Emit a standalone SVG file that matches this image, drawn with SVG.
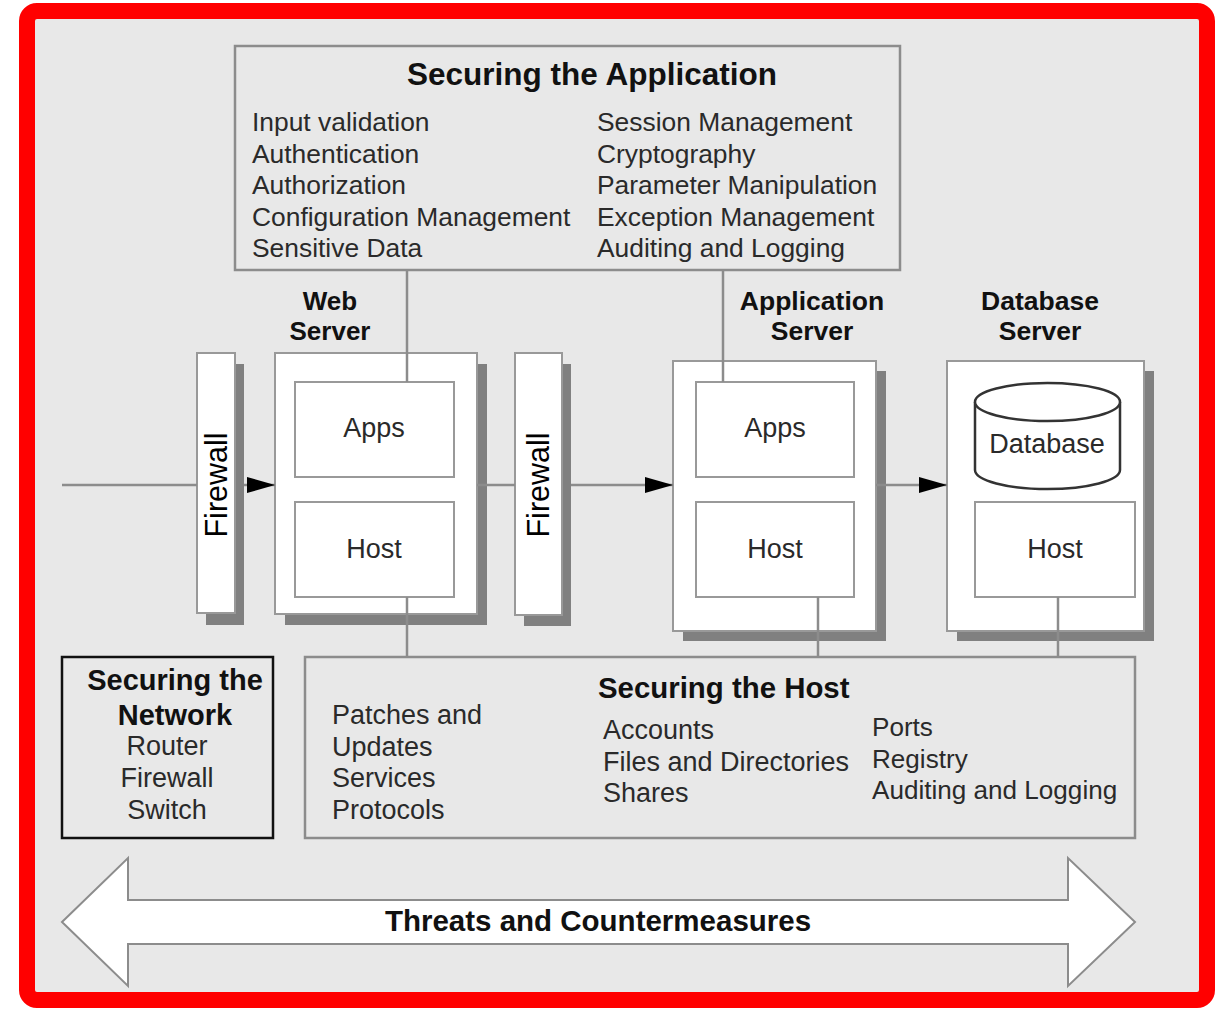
<svg xmlns="http://www.w3.org/2000/svg" width="1223" height="1009" viewBox="0 0 1223 1009">
<defs>
<style>
.t{font-family:"Liberation Sans",Arial,sans-serif;fill:#2a2a2a;font-size:27px}
.ta{font-family:"Liberation Sans",Arial,sans-serif;fill:#2a2a2a;font-size:26.4px}
.th{font-family:"Liberation Sans",Arial,sans-serif;fill:#2a2a2a;font-size:26.1px}
.b{font-family:"Liberation Sans",Arial,sans-serif;fill:#111;font-weight:bold}
.c{text-anchor:middle}
.fw{font-family:"Liberation Sans",Arial,sans-serif;fill:#000;font-size:30.5px;text-anchor:middle}
.box{fill:#fff;stroke:#999;stroke-width:2}
.sh{fill:#808080}
.sec{fill:#e8e8e8;stroke:#8c8c8c;stroke-width:2.5}
.ln{stroke:#8c8c8c;stroke-width:2.5;fill:none}
</style>
<marker id="ah" markerUnits="userSpaceOnUse" markerWidth="28" markerHeight="18" refX="28" refY="9" orient="auto">
<path d="M0,1 L28,9 L0,17 Z" fill="#000"/>
</marker>
</defs>
<rect x="27" y="11" width="1180" height="989" rx="10" fill="#e8e8e8" stroke="#ff0000" stroke-width="16"/>

<g id="securing-application">
<rect class="sec" x="235" y="46" width="665" height="224"/>
<text class="b c" x="592" y="85" font-size="31.5">Securing the Application</text>
<text class="ta" x="252" y="131">Input validation</text>
<text class="ta" x="252" y="163">Authentication</text>
<text class="ta" x="252" y="194">Authorization</text>
<text class="ta" x="252" y="226">Configuration Management</text>
<text class="ta" x="252" y="257">Sensitive Data</text>
<text class="ta" x="597" y="131">Session Management</text>
<text class="ta" x="597" y="163">Cryptography</text>
<text class="ta" x="597" y="194">Parameter Manipulation</text>
<text class="ta" x="597" y="226">Exception Management</text>
<text class="ta" x="597" y="257">Auditing and Logging</text>
</g>

<g id="firewall-1">
<rect class="sh" x="206" y="364" width="38" height="261"/>
<rect class="box" x="197" y="353" width="38" height="260"/>
<text class="fw" transform="translate(216,485) rotate(-90)" y="11">Firewall</text>
</g>

<g id="web-server">
<text class="b c" x="330" y="310" font-size="26">Web</text>
<text class="b c" x="330" y="340" font-size="26">Server</text>
<rect class="sh" x="285" y="364" width="202" height="261"/>
<rect class="box" x="275" y="353" width="202" height="261"/>
<rect class="box" x="295" y="382" width="159" height="95"/>
<text class="t c" x="374" y="437">Apps</text>
<rect class="box" x="295" y="502" width="159" height="95"/>
<text class="t c" x="374" y="558">Host</text>
</g>

<g id="firewall-2">
<rect class="sh" x="524" y="364" width="47" height="262"/>
<rect class="box" x="515" y="353" width="47" height="262"/>
<text class="fw" transform="translate(538,485) rotate(-90)" y="11">Firewall</text>
</g>

<g id="application-server">
<text class="b c" x="812" y="310" font-size="26.5">Application</text>
<text class="b c" x="812" y="340" font-size="26.5">Server</text>
<rect class="sh" x="683" y="371" width="203" height="270"/>
<rect class="box" x="673" y="361" width="203" height="270"/>
<rect class="box" x="696" y="382" width="158" height="95"/>
<text class="t c" x="775" y="437">Apps</text>
<rect class="box" x="696" y="502" width="158" height="95"/>
<text class="t c" x="775" y="558">Host</text>
</g>

<g id="database-server">
<text class="b c" x="1040" y="310" font-size="26.5">Database</text>
<text class="b c" x="1040" y="340" font-size="26.5">Server</text>
<rect class="sh" x="957" y="371" width="197" height="270"/>
<rect class="box" x="947" y="361" width="197" height="270"/>
<path d="M975,402 L975,470 A72.5,19 0 0 0 1120,470 L1120,402" fill="#fff" stroke="#333" stroke-width="2.5"/>
<ellipse cx="1047.5" cy="402" rx="72.5" ry="19" fill="#fff" stroke="#333" stroke-width="2.5"/>
<text class="t c" x="1047" y="453">Database</text>
<rect class="box" x="975" y="502" width="160" height="95"/>
<text class="t c" x="1055" y="558">Host</text>
</g>

<g id="securing-network">
<rect x="62" y="657" width="211" height="181" fill="#e8e8e8" stroke="#111" stroke-width="2.5"/>
<text class="b c" x="175" y="690" font-size="29">Securing the</text>
<text class="b c" x="175" y="725" font-size="29">Network</text>
<text class="t c" x="167" y="755">Router</text>
<text class="t c" x="167" y="787">Firewall</text>
<text class="t c" x="167" y="819">Switch</text>
</g>

<g id="securing-host">
<rect class="sec" x="305" y="657" width="830" height="181"/>
<text class="b" x="598" y="698" font-size="29.4">Securing the Host</text>
<text class="t" x="332" y="724">Patches and</text>
<text class="t" x="332" y="756">Updates</text>
<text class="t" x="332" y="787">Services</text>
<text class="t" x="332" y="819">Protocols</text>
<text class="t" x="603" y="739">Accounts</text>
<text class="t" x="603" y="771">Files and Directories</text>
<text class="t" x="603" y="802">Shares</text>
<text class="th" x="872" y="736">Ports</text>
<text class="th" x="872" y="768">Registry</text>
<text class="th" x="872" y="799">Auditing and Logging</text>
</g>

<g id="threats-arrow">
<polygon points="62,922 128,858 128,900 1068,900 1068,858 1135,922 1068,986 1068,944 128,944 128,986" fill="#fff" stroke="#8c8c8c" stroke-width="2"/>
<text class="b c" x="598" y="931" font-size="29.5">Threats and Countermeasures</text>
</g>

<g id="connectors">
<line class="ln" x1="407" y1="270" x2="407" y2="382"/>
<line class="ln" x1="723" y1="270" x2="723" y2="382"/>
<line class="ln" x1="407" y1="597" x2="407" y2="657"/>
<line class="ln" x1="818" y1="597" x2="818" y2="657"/>
<line class="ln" x1="1058" y1="597" x2="1058" y2="657"/>
<line class="ln" x1="62" y1="485" x2="197" y2="485"/>
<line class="ln" x1="244" y1="485" x2="275" y2="485" marker-end="url(#ah)"/>
<line class="ln" x1="477" y1="485" x2="515" y2="485"/>
<line class="ln" x1="571" y1="485" x2="673" y2="485" marker-end="url(#ah)"/>
<line class="ln" x1="876" y1="485" x2="947" y2="485" marker-end="url(#ah)"/>
</g>
</svg>
